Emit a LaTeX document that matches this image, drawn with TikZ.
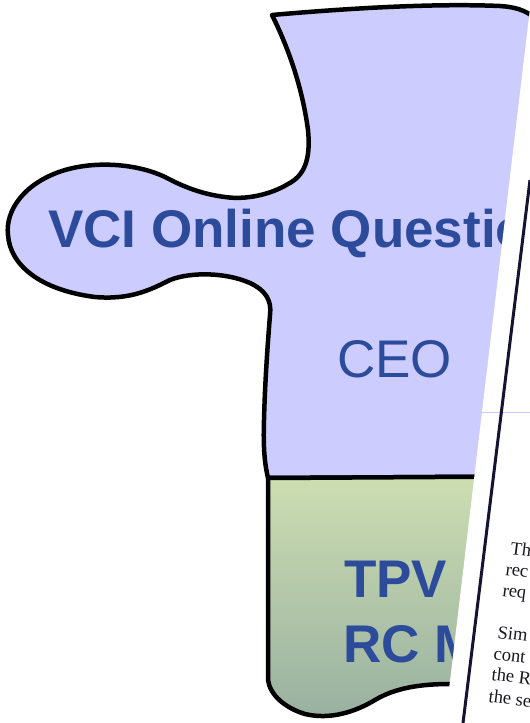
\documentclass[tikz,border=0pt]{standalone}
\usepackage{fontspec}
\usepackage{tikz}
\usepackage{xcolor}
\setmainfont{Liberation Sans}
\newfontfamily\scanfont{Liberation Serif}
\definecolor{vcilav}{RGB}{204, 204, 255}
\definecolor{vciblue}{RGB}{45, 75, 155}
\definecolor{tpvtop}{RGB}{205, 222, 178}
\definecolor{tpvbot}{RGB}{152, 176, 160}
\definecolor{scanink}{RGB}{25, 25, 30}
\definecolor{scanedge}{RGB}{20, 20, 50}
\tikzset{
    puzzlepiece/.style={draw=black, line width=4.5pt, line join=round},
    boldlabel/.style={anchor=base west, inner sep=0pt, text=vciblue, font=\fontsize{53}{60}\selectfont\bfseries},
    plainlabel/.style={anchor=base west, inner sep=0pt, text=vciblue, font=\fontsize{53}{60}\selectfont},
    scanline/.style={anchor=base west, inner sep=0pt, rotate=-7, text=scanink, font=\fontsize{18.5}{21}\selectfont\scanfont}
}
\begin{document}
\begin{tikzpicture}[x=1pt, y=-1pt]
    \useasboundingbox (0,0) rectangle (530,723);
    \clip (0,0) rectangle (530,723);
    % upper piece
    \path[puzzlepiece, fill=vcilav] (272,15) .. controls (340,9) and (430,3) .. (500,6)
        .. controls (515,7) and (525,10) .. (535,18) -- (600,40) -- (600,476) -- (268,478)
        .. controls (265,465) and (263,450) .. (264,420)
        .. controls (265,380) and (268,340) .. (270,315)
        .. controls (272,300) and (265,290) .. (250,283)
        .. controls (225,272) and (190,272) .. (170,280)
        .. controls (150,290) and (130,300) .. (95,297)
        .. controls (40,290) and (10,265) .. (8,235)
        .. controls (5,210) and (25,182) .. (65,170)
        .. controls (100,160) and (140,165) .. (165,177)
        .. controls (180,185) and (200,194) .. (225,197)
        .. controls (245,200) and (270,195) .. (288,184)
        .. controls (304,176) and (311,160) .. (308,130)
        .. controls (302,85) and (287,45) .. (272,15) -- cycle;
    % lower piece
    \path[puzzlepiece, top color=tpvtop, bottom color=tpvbot] (268,478) -- (268,680)
        .. controls (270,695) and (285,708) .. (305,714)
        .. controls (330,720) and (355,712) .. (375,700)
        .. controls (395,688) and (420,684) .. (450,684)
        -- (600,684) -- (600,476) -- cycle;
    \node[boldlabel] (title) at (48,247) {VCI Online Question};
    \node[plainlabel] (ceo) at (337,377) {CEO};
    \node[boldlabel] (tpv) at (344,597) {TPV};
    \node[boldlabel] (rcm) at (343,662) {RC M};
    % scanned page
    \fill[white] (531,0) -- (445,723) -- (600,723) -- (600,0) -- cycle;
    \draw[vcilav, line width=0.8pt] (482,412) -- (530,412);
    \coordinate (edgetop) at (530,180);
    \coordinate (edgebot) at (463,723);
    \draw[scanedge, line width=3pt] (edgetop) -- (edgebot);
    \node[scanline] (s1) at (510,554) {The};
    \node[scanline] (s2) at (505,575) {rec};
    \node[scanline] (s3) at (502,596) {req};
    \node[scanline] (s4) at (497,638) {Sim};
    \node[scanline] (s5) at (493,659) {cont};
    \node[scanline] (s6) at (491,680) {the R};
    \node[scanline] (s7) at (488,702) {the se};
\end{tikzpicture}
\end{document}
